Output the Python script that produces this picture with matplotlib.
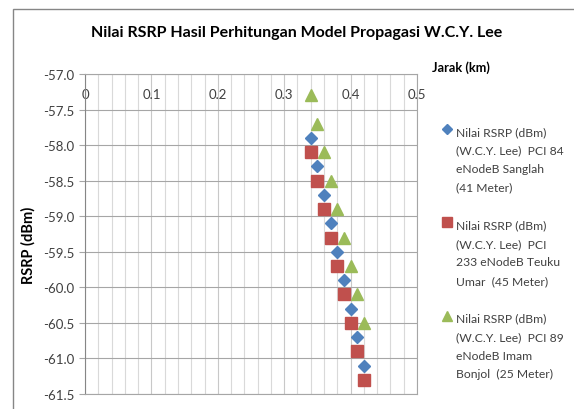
import matplotlib
matplotlib.use("Agg")
import numpy as np
import matplotlib.pyplot as plt
from matplotlib.ticker import MultipleLocator
from matplotlib.patches import Rectangle
from matplotlib.lines import Line2D
from matplotlib.legend_handler import HandlerLine2D

plt.rcParams["font.family"] = ["Lato", "DejaVu Sans"]

# ---- data ----
jarak = [0.34, 0.35, 0.36, 0.37, 0.38, 0.39, 0.40, 0.41, 0.42]
rsrp_sanglah = [-57.9, -58.3, -58.7, -59.1, -59.5, -59.9, -60.3, -60.7, -61.1]
rsrp_teuku = [-58.1, -58.5, -58.9, -59.3, -59.7, -60.1, -60.5, -60.9, -61.3]
rsrp_imam = [-57.3, -57.7, -58.1, -58.5, -58.9, -59.3, -59.7, -60.1, -60.5]

labels = [
    "Nilai RSRP (dBm)\n(W.C.Y. Lee)  PCI 84\neNodeB Sanglah\n(41 Meter)",
    "Nilai RSRP (dBm)\n(W.C.Y. Lee)  PCI\n233 eNodeB Teuku\nUmar  (45 Meter)",
    "Nilai RSRP (dBm)\n(W.C.Y. Lee)  PCI 89\neNodeB Imam\nBonjol  (25 Meter)",
]

LEG_FS = 8.7
LINE_PX = 20.3  # spacing between legend text lines in pixels


class TopHandler(HandlerLine2D):
    # put the legend marker next to the first line of a multi-line label
    def __init__(self, shift, **kw):
        super().__init__(**kw)
        self.shift = shift

    def create_artists(self, legend, orig_handle, xdescent, ydescent, width, height, fontsize, trans):
        arts = super().create_artists(legend, orig_handle, xdescent, ydescent, width, height, fontsize, trans)
        for a in arts:
            a.set_ydata(np.asarray(a.get_ydata()) + self.shift)
        return arts


fig = plt.figure(figsize=(5.74, 4.10), dpi=100)
ax = fig.add_axes([85 / 574, 1 - 395 / 410, 332 / 574, 320 / 410])

ax.plot(jarak, rsrp_sanglah, "D", color="#4F81BD", ms=6.5, label=labels[0], zorder=3)
ax.plot(jarak, rsrp_teuku, "s", color="#C0504D", ms=8.2, label=labels[1], zorder=3)
ax.plot(jarak, rsrp_imam, "^", color="#9BBB59", ms=8.5, label=labels[2], zorder=3)

ax.set_xlim(0, 0.5)
ax.set_ylim(-61.5, -57.0)
ax.xaxis.set_major_locator(MultipleLocator(0.1))
ax.xaxis.set_minor_locator(MultipleLocator(0.02))
ax.yaxis.set_major_locator(MultipleLocator(0.5))
ax.xaxis.set_major_formatter(plt.FuncFormatter(lambda v, p: "0" if v == 0 else f"{v:.1f}"))
ax.yaxis.set_major_formatter(plt.FuncFormatter(lambda v, p: f"{v:.1f}"))

ax.grid(True, which="major", axis="y", color="#A6A6A6", lw=0.8)
ax.grid(True, which="major", axis="x", color="#C8C8C8", lw=0.8)
ax.grid(True, which="minor", axis="x", color="#D9D9D9", lw=0.8)
ax.set_axisbelow(True)

# x axis labels sit at the top, inside the plot
ax.xaxis.tick_top()
ax.tick_params(axis="x", which="both", length=0, pad=-18.4, labelsize=9.5, labelcolor="#404040")
ax.tick_params(axis="y", length=4, color="#A6A6A6", width=0.8, labelsize=9.5, labelcolor="#404040")

for s in ax.spines.values():
    s.set_color("#A6A6A6")
    s.set_linewidth(0.8)
ax.spines["left"].set_color("#868686")

fig.text(297 / 574, 1 - 33 / 410, "Nilai RSRP Hasil Perhitungan Model Propagasi W.C.Y. Lee",
         ha="center", va="center", fontsize=11.5, fontweight="bold")
fig.text(28 / 574, 1 - 245 / 410, "RSRP (dBm)", rotation=90, ha="center", va="center",
         fontsize=10.5, fontweight="bold")
fig.text(432 / 574, 1 - 68 / 410, "Jarak (km)", ha="left", va="center",
         fontsize=9.2, fontweight="bold")

shift_pt = 1.5 * LINE_PX * 72 / 100
leg = fig.legend(loc="upper left", bbox_to_anchor=(436 / 574, 1 - 121 / 410), frameon=False,
                 fontsize=LEG_FS, handlelength=0.8, handletextpad=0.35, labelspacing=2.2,
                 borderpad=0, markerscale=0.8, handler_map={Line2D: TopHandler(shift_pt)})
lp_px = LEG_FS * 100 / 72 * 0.87
for t in leg.get_texts():
    t.set_linespacing(LINE_PX / lp_px * 20.3 / 21.3)
    t.set_color("#404040")

# chart border
fig.add_artist(Rectangle((13 / 574, -0.5), 2, 0.5 + 1 - 10 / 410, transform=fig.transFigure,
                         fill=False, edgecolor="#868686", lw=1))

fig.savefig("out.png", dpi=100)
